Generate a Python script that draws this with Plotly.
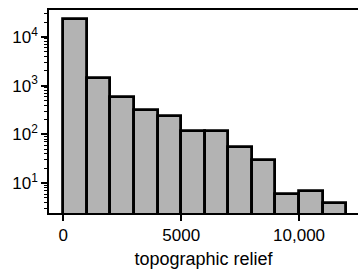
import plotly.graph_objects as go

bin_starts = [0, 1000, 2000, 3000, 4000, 5000, 6000, 7000, 8000, 9000, 10000, 11000]
bin_width = 1000
counts = [22600, 1450, 590, 320, 240, 119, 115, 56, 30, 6, 7, 4]
x_tickvals = [0, 5000, 10000]
x_ticktext = ["0", "5000", "10,000"]
y_tickvals = [10, 100, 1000, 10000]
y_ticktext = ["10<sup>1</sup>", "10<sup>2</sup>", "10<sup>3</sup>", "10<sup>4</sup>"]

centers = [s + bin_width / 2 for s in bin_starts]

fig = go.Figure(go.Bar(
    x=centers, y=counts, width=[bin_width] * len(counts),
    marker=dict(color="#b3b3b3", line=dict(color="black", width=2.8)),
    hoverinfo="skip",
))

font = dict(family="Arial, Liberation Sans, sans-serif", size=17, color="black")
fig.update_layout(
    width=358, height=270,
    margin=dict(l=49, r=0, t=10, b=57, autoexpand=False),
    paper_bgcolor="white", plot_bgcolor="white",
    font=font, showlegend=False, bargap=0,
    xaxis=dict(range=[-607, 12500], tickvals=x_tickvals, ticktext=x_ticktext,
               ticks="outside", ticklen=6, tickwidth=1.5, tickcolor="black",
               showline=True, linecolor="black", linewidth=1.5, mirror=True,
               showgrid=False, zeroline=False, automargin=False,
               title=dict(text="topographic relief", standoff=8,
                          font=dict(family="Arial, Liberation Sans, sans-serif", size=18, color="black"))),
    yaxis=dict(type="log", range=[0.391, 4.547], tickvals=y_tickvals, ticktext=y_ticktext,
               ticks="outside", ticklen=6, tickwidth=1.5, tickcolor="black",
               showline=True, linecolor="black", linewidth=1.5,
               showgrid=False, zeroline=False, automargin=False,
               minor=dict(ticks="outside", ticklen=3, tickwidth=1, tickcolor="black",
                          dtick="D1", showgrid=False)),
)

fig.write_html("out.html", config={"displayModeBar": False},
               post_script="document.body.style.margin='0';document.body.style.overflow='hidden';")
